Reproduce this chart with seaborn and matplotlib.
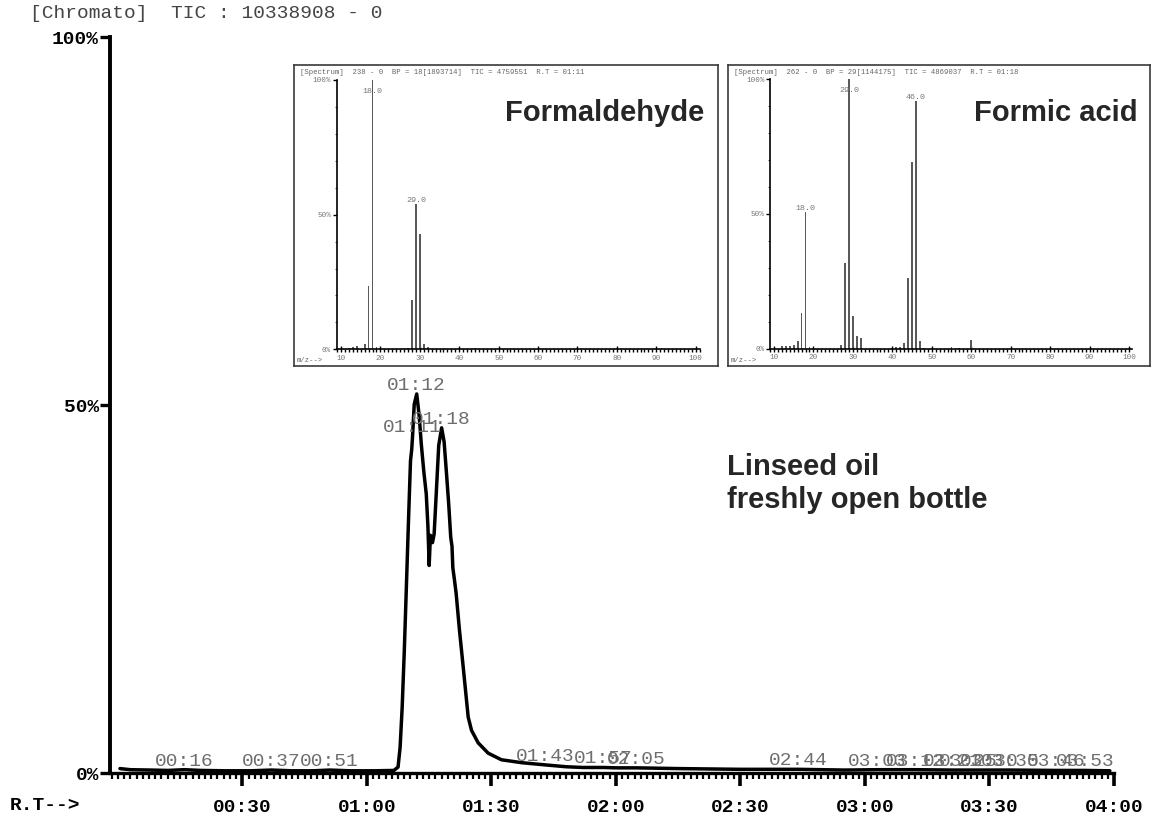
import numpy as np
import pandas as pd
import matplotlib
matplotlib.use("Agg")
import matplotlib.pyplot as plt
import seaborn as sns
from matplotlib.ticker import FixedLocator, MultipleLocator

# ---- total ion chromatogram (retention time in seconds, relative intensity %) ----
rt_sec = [0.5, 3, 8, 12, 16, 20, 26, 32, 37, 42, 47, 51, 56, 62, 66.5, 67.5, 68.0,
          68.5, 69.0, 69.4, 70.0, 70.5, 70.8, 71.0, 71.4, 72.0, 72.6, 73.1, 73.7,
          74.3, 74.7, 75.0, 75.3, 75.8, 76.2, 76.7, 77.3, 78.0, 78.6, 79.2, 79.7,
          80.2, 80.5, 80.7, 81.1, 81.5, 82.3, 83.2, 84.4, 85.2, 86.8, 89.2, 92.4,
          97.3, 103, 108, 112, 117, 120, 125, 135, 150, 164, 175, 183, 192, 201,
          205, 210, 215, 226, 233, 239]
tic_pct = [0.6, 0.45, 0.4, 0.35, 0.45, 0.35, 0.3, 0.3, 0.4, 0.3, 0.3, 0.4, 0.3,
           0.3, 0.35, 0.8, 3.5, 9.0, 16.5, 23.4, 34.0, 42.4, 44.0, 45.8, 50.1,
           51.5, 48.5, 44.7, 41.0, 37.9, 33.5, 28.2, 32.3, 31.3, 32.5, 37.9, 44.5,
           46.9, 45.0, 40.5, 36.6, 32.0, 30.8, 27.9, 26.2, 24.4, 19.4, 14.4, 7.6,
           5.8, 4.1, 2.7, 1.8, 1.4, 1.1, 0.85, 0.75, 0.75, 0.7, 0.7, 0.6, 0.5,
           0.5, 0.4, 0.45, 0.45, 0.4, 0.4, 0.4, 0.4, 0.35, 0.35, 0.3]

peak_times = [16, 37, 51, 71, 72, 78, 103, 117, 125, 164, 183, 192, 201, 205,
              210, 215, 226, 233]

rt_ticks = [30, 60, 90, 120, 150, 180, 210, 240]
rt_tick_labels = ["00:30", "01:00", "01:30", "02:00", "02:30", "03:00", "03:30", "04:00"]
pct_ticks = [0, 50, 100]
pct_tick_labels = ["0%", "50%", "100%"]

# ---- mass spectra ----
formaldehyde_mz = [12, 13, 14, 16, 17, 18, 19, 27, 28, 29, 30, 31, 32, 40, 44]
formaldehyde_int = [0.5, 0.8, 1.2, 2.0, 23.6, 100, 1.0, 0.6, 18.3, 54.0, 42.9,
                    2.0, 1.0, 0.4, 0.4]
formaldehyde_marked = [18, 29]

formic_mz = [12, 13, 14, 15, 16, 17, 18, 19, 20, 27, 28, 29, 30, 31, 32, 40, 41,
             42, 43, 44, 45, 46, 47, 48, 55, 57, 60]
formic_int = [1.0, 1.0, 1.0, 1.5, 2.9, 13.1, 50.7, 0.6, 0.3, 1.5, 31.9, 100,
              12.3, 4.8, 4.1, 0.4, 0.5, 0.5, 2.0, 26.2, 69.3, 92.1, 2.9, 0.4,
              0.5, 0.4, 3.1]
formic_marked = [18, 29, 46]

mz_ticks = [10, 20, 30, 40, 50, 60, 70, 80, 90, 100]

sns.set_theme(style="white")
plt.rcParams["font.family"] = ["Liberation Mono", "DejaVu Sans Mono"]

W, H = 1155, 818
fig = plt.figure(figsize=(W / 100, H / 100), dpi=100)


def rect(x0, y0, x1, y1):
    """Pixel box (origin top-left) -> figure-fraction rectangle."""
    return [x0 / W, 1 - y1 / H, (x1 - x0) / W, (y1 - y0) / H]


def mmss(sec):
    return f"{int(sec) // 60:02d}:{int(sec) % 60:02d}"


# ---- chromatogram ----
ax = fig.add_axes(rect(110, 37, 1114, 773))
ax.patch.set_alpha(0)
chrom = pd.DataFrame({"rt": rt_sec, "tic": tic_pct})
sns.lineplot(data=chrom, x="rt", y="tic", ax=ax, color="black", linewidth=2.5)
ax.set_xlim(-1.9, 240)
ax.set_ylim(0, 100)
ax.set_xlabel("")
ax.set_ylabel("")
for s in ["top", "right"]:
    ax.spines[s].set_visible(False)
ax.spines["left"].set_linewidth(2.8)
ax.spines["bottom"].set_linewidth(2.4)
for s in ["left", "bottom"]:
    ax.spines[s].set_color("black")

ax.xaxis.set_major_locator(FixedLocator(rt_ticks))
ax.set_xticklabels(rt_tick_labels, fontweight="bold", fontsize=14, color="black")
ax.xaxis.set_minor_locator(MultipleLocator(1.5))
ax.tick_params(axis="x", which="major", direction="out", length=9, width=2.6,
               color="black", pad=10, bottom=True)
ax.tick_params(axis="x", which="minor", direction="out", length=4.5, width=1.6,
               color="black", bottom=True)
ax.yaxis.set_major_locator(FixedLocator(pct_ticks))
ax.set_yticklabels(pct_tick_labels, fontweight="bold", fontsize=14, color="black")
ax.tick_params(axis="y", which="major", direction="out", length=7, width=2.4,
               color="black", pad=1, left=True)

for t in peak_times:
    v = np.interp(t, rt_sec, tic_pct)
    ax.text(t, v, mmss(t), ha="center", va="bottom", fontsize=14, color="#6e6e6e")

fig.text(30 / W, 1 - 14 / H, "[Chromato]  TIC : 10338908 - 0", ha="left",
         va="center", fontsize=14, color="#444444")
fig.text(10 / W, 1 - 805 / H, "R.T-->", ha="left", va="center", fontsize=14,
         fontweight="bold", color="black")

fig.text(727 / W, 1 - 467 / H, "Linseed oil", ha="left", va="center",
         fontsize=21, fontweight="bold", family="Liberation Sans", color="#262626")
fig.text(727 / W, 1 - 500 / H, "freshly open bottle", ha="left", va="center",
         fontsize=21, fontweight="bold", family="Liberation Sans", color="#262626")


# ---- mass spectrum insets ----
def spectrum(frame, area, xlim, mz, inten, marked, title, name, name_right):
    fr = fig.add_axes(rect(*frame))
    fr.set_facecolor("white")
    fr.set_xticks([])
    fr.set_yticks([])
    for s in fr.spines.values():
        s.set_color("#3a3a3a")
        s.set_linewidth(1.2)
        s.set_visible(True)

    sa = fig.add_axes(rect(*area))
    sa.patch.set_alpha(0)
    sns.barplot(x=mz, y=inten, native_scale=True, width=0.45, color="#5a5a5a",
                saturation=1, linewidth=0, errorbar=None, ax=sa)
    sa.set_xlim(*xlim)
    sa.set_ylim(0, 100)
    sa.set_xlabel("")
    sa.set_ylabel("")
    for s in ["top", "right"]:
        sa.spines[s].set_visible(False)
    for s in ["left", "bottom"]:
        sa.spines[s].set_visible(True)
        sa.spines[s].set_color("black")
        sa.spines[s].set_linewidth(1.2)
    sa.xaxis.set_major_locator(FixedLocator(mz_ticks))
    sa.set_xticklabels([str(m) for m in mz_ticks], fontsize=5.5, color="#777777")
    sa.xaxis.set_minor_locator(MultipleLocator(1))
    sa.tick_params(axis="x", which="major", direction="inout", length=4, width=1,
                   color="black", pad=2, bottom=True)
    sa.tick_params(axis="x", which="minor", direction="out", length=2, width=1,
                   color="black", bottom=True)
    sa.yaxis.set_major_locator(FixedLocator(pct_ticks))
    sa.set_yticklabels(pct_tick_labels, fontsize=5.5, color="#777777")
    sa.yaxis.set_minor_locator(MultipleLocator(10))
    sa.tick_params(axis="y", which="major", direction="out", length=3, width=1,
                   color="black", pad=1, left=True)
    sa.tick_params(axis="y", which="minor", direction="out", length=1.5, width=0.8,
                   color="#555555", left=True)

    for m in marked:
        h = inten[mz.index(m)]
        sa.text(m, min(h, 94.5), f"{m:.1f}", ha="center", va="bottom",
                fontsize=6, color="#777777")

    fig.text((frame[0] + 6) / W, 1 - (frame[1] + 7.5) / H, title, ha="left",
             va="center", fontsize=5.2, color="#666666")
    fig.text((frame[0] + 3) / W, 1 - (frame[3] - 6) / H, "m/z-->", ha="left",
             va="center", fontsize=5.2, color="#666666")
    fig.text(name_right / W, 1 - 112.7 / H, name, ha="right", va="center",
             fontsize=21, fontweight="bold", family="Liberation Sans",
             color="#262626")


spectrum((294, 65, 718, 366), (336.7, 80, 700, 349.3), (8.91, 101.09),
         formaldehyde_mz, formaldehyde_int, formaldehyde_marked,
         "[Spectrum]  238 - 0  BP = 18[1893714]  TIC = 4759551  R.T = 01:11",
         "Formaldehyde", 704)
spectrum((728, 65, 1150, 366), (770, 79.3, 1132.3, 348.7), (8.99, 100.84),
         formic_mz, formic_int, formic_marked,
         "[Spectrum]  262 - 0  BP = 29[1144175]  TIC = 4869037  R.T = 01:18",
         "Formic acid", 1138)

fig.savefig("out.png", dpi=100, facecolor="white")
